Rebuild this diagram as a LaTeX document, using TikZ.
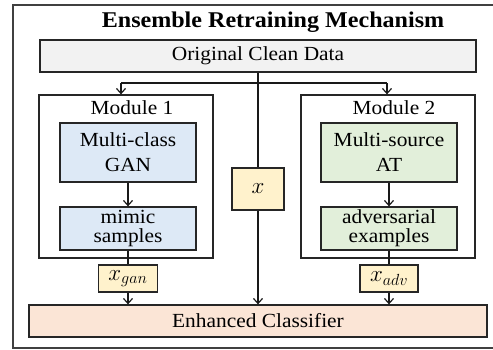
\documentclass[tikz,border=0pt]{standalone}
\usepackage{fix-cm}
\usepackage{fontspec}
\setmainfont[FakeStretch=1.07]{Liberation Serif}
\usetikzlibrary{arrows.meta}
\begin{document}
\begin{tikzpicture}[x=1pt,y=-1pt,
  box/.style={draw=black!85,line width=1.3pt,rectangle,inner sep=0pt,align=center,
    font=\fontsize{20}{24}\selectfont},
  tag/.style={box,fill={rgb,255:red,255;green,242;blue,204},font=\fontsize{23}{27}\selectfont},
  modbox/.style={draw=black!85,line width=1.3pt,rectangle,inner sep=0pt},
  flow/.style={line width=1.3pt,draw=black!90},
  arr/.style={flow,-{Straight Barb[length=5pt,width=9pt,line width=1.2pt]}},
]
\clip (0,0) rectangle (493,349);
% outer frame
\draw[line width=1.5pt,draw=black!75] (13,5) rectangle (497,348);
\node[font=\bfseries\fontsize{22.5}{26}\selectfont,anchor=center] (title) at (273,22) {Ensemble Retraining Mechanism};
% data source
\node[box,fill=black!5,minimum width=436pt,minimum height=32pt] (data) at (258,56) {Original Clean Data};
% module frames
\node[modbox,minimum width=174pt,minimum height=163pt] (mod1) at (126,176.5) {};
\node[modbox,minimum width=174pt,minimum height=163pt] (mod2) at (388,176.5) {};
\node[font=\fontsize{20}{24}\selectfont] (lab1) at (132,108) {Module 1};
\node[font=\fontsize{20}{24}\selectfont] (lab2) at (394,108) {Module 2};
% module 1 contents
\node[box,fill={rgb,255:red,221;green,233;blue,246},minimum width=136pt,minimum height=59pt,
  font=\fontsize{20}{25}\selectfont] (gan) at (128,152.5) {Multi-class\\GAN};
\node[box,fill={rgb,255:red,221;green,233;blue,246},minimum width=136pt,minimum height=43pt,
  font=\fontsize{20}{19}\selectfont] (mimic) at (128,228.5) {mimic\\samples};
% module 2 contents
\node[box,fill={rgb,255:red,226;green,239;blue,218},minimum width=136pt,minimum height=59pt,
  font=\fontsize{20}{25}\selectfont] (at) at (389,152.5) {Multi-source\\AT};
\node[box,fill={rgb,255:red,226;green,239;blue,218},minimum width=136pt,minimum height=43pt,
  font=\fontsize{20}{19}\selectfont] (adv) at (389,228.5) {adversarial\\examples};
% data tags
\node[tag,minimum width=59pt,minimum height=27pt] (xgan) at (128,278.5) {$x_{gan}$};
\node[tag,minimum width=58pt,minimum height=27pt] (xadv) at (389,278.5) {$x_{adv}$};
\node[tag,minimum width=52pt,minimum height=42pt] (xc) at (258,189) {$x$};
% classifier
\node[box,fill={rgb,255:red,251;green,229;blue,214},minimum width=458pt,minimum height=32pt] (cls) at (258,321) {Enhanced Classifier};
% branching from the clean data
\coordinate (split) at (258,83);
\coordinate (brL) at (121,83);
\coordinate (brR) at (387,83);
\draw[flow] (data.south) -- (split);
\draw[flow] (brL) -- (brR);
\draw[arr] (brL) -- (brL |- mod1.north);
\draw[arr] (brR) -- (brR |- mod2.north);
\draw[flow] (split) -- (xc.north);
\draw[arr] (xc.south) -- (xc.south |- cls.north);
% module 1 flow
\draw[arr] (gan.south) -- (mimic.north);
\draw[flow] (mimic.south) -- (xgan.north);
\draw[arr] (xgan.south) -- (xgan.south |- cls.north);
% module 2 flow
\draw[arr] (at.south) -- (adv.north);
\draw[flow] (adv.south) -- (xadv.north);
\draw[arr] (xadv.south) -- (xadv.south |- cls.north);
\end{tikzpicture}
\end{document}
